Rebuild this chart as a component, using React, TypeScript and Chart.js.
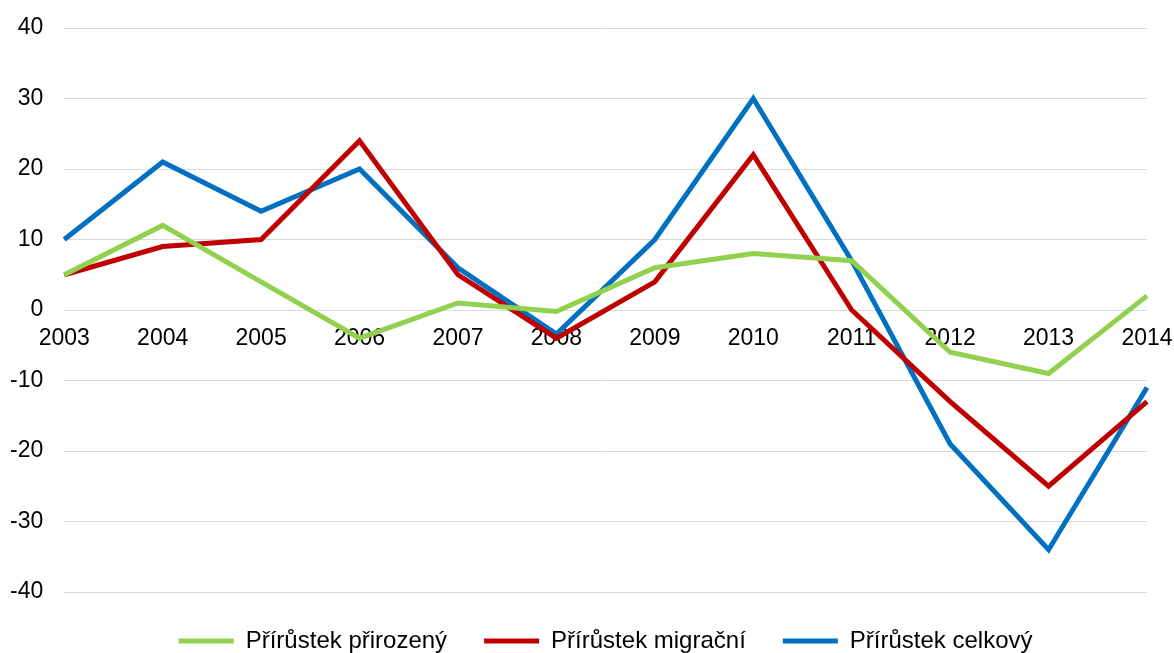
import React, { useEffect, useRef } from "react";
import { Chart, registerables } from "chart.js";

Chart.register(...registerables);

const years = ["2003", "2004", "2005", "2006", "2007", "2008", "2009", "2010", "2011", "2012", "2013", "2014"];
const natural = [5, 12, 4, -4, 1, -0.2, 6, 8, 7, -6, -9, 2];
const migration = [5, 9, 10, 24, 5, -4, 4, 22, 0, -13, -25, -13];
const total = [10, 21, 14, 20, 6, -3.4, 10, 30, 7, -19, -34, -11];

const seriesNames = ["Přírůstek přirozený", "Přírůstek migrační", "Přírůstek celkový"];
const seriesColors = ["#92d050", "#c00000", "#0070c0"];

const FONT = "'Liberation Sans', Arial, sans-serif";

export default function App() {
  const ref = useRef<HTMLCanvasElement | null>(null);

  useEffect(() => {
    document.body.style.margin = "0";
    document.body.style.overflow = "hidden";
    const canvas = ref.current;
    if (!canvas) return;
    const values = [natural, migration, total];
    const chart = new Chart(canvas, {
      type: "line",
      data: {
        labels: years,
        datasets: values.map((v, i) => ({
          label: seriesNames[i],
          data: v,
          borderColor: seriesColors[i],
          backgroundColor: seriesColors[i],
          borderWidth: 5,
          pointRadius: 0,
          tension: 0,
          fill: false,
        })),
      },
      options: {
        animation: false,
        responsive: true,
        maintainAspectRatio: false,
        layout: { padding: { left: 10, top: 28, right: 0, bottom: -10 } },
        plugins: {
          tooltip: { enabled: false },
          legend: {
            position: "bottom",
            fullSize: false,
            labels: {
              color: "#000",
              font: { family: FONT, size: 24 },
              boxWidth: 55,
              boxHeight: 5,
              padding: 37,
              generateLabels: (c: any) =>
                Chart.defaults.plugins.legend.labels.generateLabels(c).map((it: any) => ({
                  ...it,
                  lineWidth: 0,
                  fillStyle: it.strokeStyle,
                })),
            },
          },
        },
        scales: {
          x: {
            position: { y: 0 } as any,
            grid: { display: false, drawTicks: false },
            border: { display: false },
            afterFit: (s: any) => {
              s.paddingLeft = 0;
              s.paddingRight = 27;
            },
            ticks: {
              color: "#000",
              font: { family: FONT, size: 23 },
              padding: 15,
              maxRotation: 0,
              autoSkip: false,
            },
          },
          y: {
            min: -40,
            max: 40,
            grid: { color: "#d9d9d9", lineWidth: 1, drawTicks: false },
            border: { display: false },
            afterFit: (s: any) => {
              s.paddingTop = 0;
              s.paddingBottom = 0;
              s.width = s.width - 21;
            },
            ticks: {
              stepSize: 10,
              color: "#000",
              font: { family: FONT, size: 23 },
              padding: 21,
            },
          },
        },
      },
    });
    return () => chart.destroy();
  }, []);

  return (
    <div style={{ width: 1174, height: 653, position: "relative" }}>
      <canvas ref={ref} />
    </div>
  );
}
